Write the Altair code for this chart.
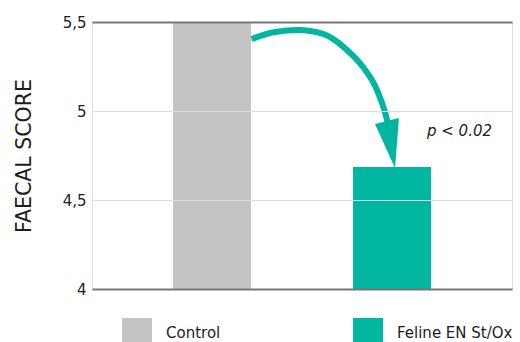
import altair as alt
import pandas as pd

# ---- data ----
groups = ["Control", "Feline EN St/Ox"]
scores = [5.5, 4.685]
bar_start = [1.35, 4.35]
bar_end = [2.65, 5.65]
colors = ["#c4c4c4", "#00b6a0"]

# arrow annotation path (x in chart units, y in score units)
arrow_x = [2.66, 3.05, 3.433, 3.85, 4.25, 4.517, 4.75, 4.883, 4.94]
arrow_y = [5.404, 5.444, 5.455, 5.433, 5.343, 5.247, 5.118, 4.994, 4.92]
head_x = [4.983]
head_y = [4.812]

p_label = ["p < 0.02"]
p_x = [5.583]
p_y = [4.888]

y_ticks = [4, 4.5, 5, 5.5]

FONT = "DejaVu Sans"
TXT = "#1d1d1b"

bars_df = pd.DataFrame({"group": groups, "score": scores, "x0": bar_start, "x1": bar_end})
arrow_df = pd.DataFrame({"x": arrow_x, "y": arrow_y, "o": list(range(len(arrow_x)))})
head_df = pd.DataFrame({"x": head_x, "y": head_y})
p_df = pd.DataFrame({"label": p_label, "x": p_x, "y": p_y})

xscale = alt.Scale(domain=[0, 7], nice=False, zero=False)
yscale = alt.Scale(domain=[4, 5.5], nice=False, zero=False)

bars = alt.Chart(bars_df).mark_bar().encode(
    x=alt.X("x0:Q", scale=xscale, axis=None),
    x2="x1:Q",
    y=alt.Y(
        "score:Q",
        scale=yscale,
        title="FAECAL SCORE",
        axis=alt.Axis(
            values=y_ticks,
            labelExpr="replace(format(datum.value, '~g'), '.', ',')",
            ticks=False,
            domain=False,
            labelPadding=6,
            labelFontSize=15,
            labelFont=FONT,
            labelColor=TXT,
            titleFontSize=20.5,
            titleFont=FONT,
            titleFontWeight="normal",
            titleColor=TXT,
            titlePadding=28,
            gridColor={"condition": {"test": "datum.value == 4 || datum.value == 5.5", "value": "#777777"}, "value": "#dddddd"},
            gridWidth={"condition": {"test": "datum.value == 4 || datum.value == 5.5", "value": 2}, "value": 1},
            zindex=1,
        ),
    ),
    y2=alt.datum(4),
    color=alt.Color(
        "group:N",
        scale=alt.Scale(domain=groups, range=colors),
        legend=alt.Legend(
            title=None,
            orient="none",
            direction="horizontal",
            legendX=30,
            legendY=296,
            symbolType="square",
            symbolSize=900,
            symbolStrokeWidth=0,
            symbolOpacity=1,
            labelOffset=14,
            columnPadding=132,
            labelFontSize=15,
            labelFont=FONT,
            labelFontWeight="normal",
            labelColor=TXT,
        ),
    ),
)

arrow = alt.Chart(arrow_df).mark_line(
    color="#00b6a0", strokeWidth=6, interpolate="monotone", strokeCap="butt"
).encode(
    x=alt.X("x:Q", scale=xscale),
    y=alt.Y("y:Q", scale=yscale),
    order="o:Q",
)

head = alt.Chart(head_df).mark_point(
    shape="M-0.64,-0.82L0.32,-1.06L0.16,0.94Z",
    size=2500,
    filled=True,
    fill="#00b6a0",
    strokeWidth=0,
    opacity=1,
).encode(
    x=alt.X("x:Q", scale=xscale),
    y=alt.Y("y:Q", scale=yscale),
)

ptext = alt.Chart(p_df).mark_text(
    align="left", baseline="middle", fontSize=15, fontStyle="italic", font=FONT, color=TXT
).encode(
    x=alt.X("x:Q", scale=xscale),
    y=alt.Y("y:Q", scale=yscale),
    text="label:N",
)

chart = alt.layer(bars, arrow, head, ptext).properties(
    width=420,
    height=267,
    padding={"left": 92, "top": 22, "right": 8, "bottom": 53},
    autosize=alt.AutoSizeParams(type="none"),
).configure_view(stroke=None).configure(background="white")

chart.save("out.html", embed_options={"renderer": "svg", "actions": False})
